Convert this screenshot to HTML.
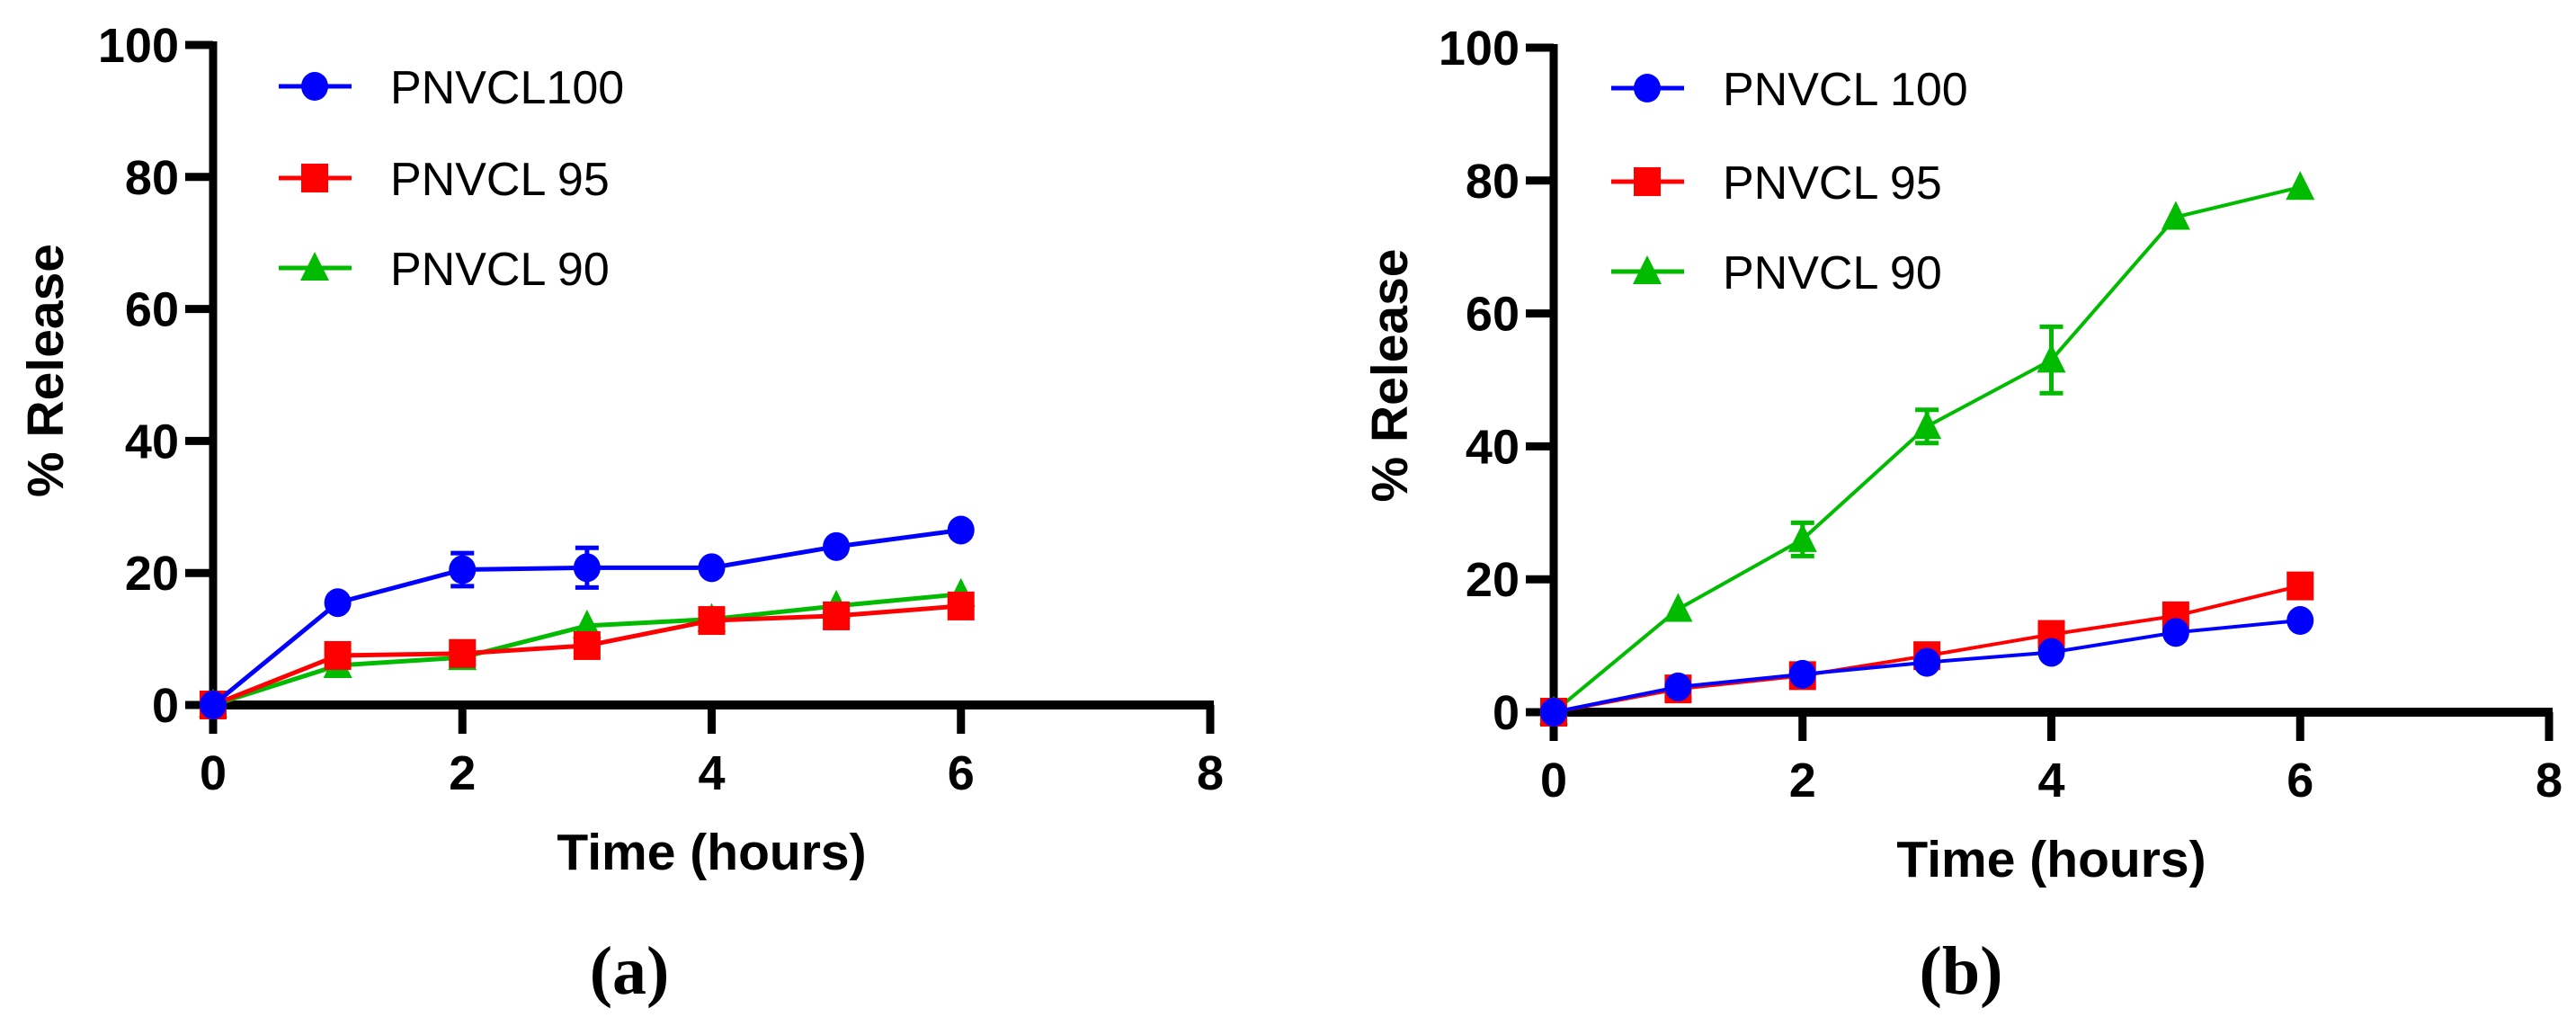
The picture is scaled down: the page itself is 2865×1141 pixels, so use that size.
<!DOCTYPE html>
<html><head><meta charset="utf-8"><style>
html,body{margin:0;padding:0;background:#fff;}
svg{display:block;}
.tk{font-family:"Liberation Sans",sans-serif;font-weight:bold;font-size:54px;fill:#000;}
.lg{font-family:"Liberation Sans",sans-serif;font-size:52px;fill:#000;}
.ttl{font-family:"Liberation Sans",sans-serif;font-weight:bold;font-size:57px;fill:#000;}
.cap{font-family:"Liberation Serif",serif;font-weight:bold;font-size:76px;fill:#000;}
</style></head><body>
<svg id="fig" width="2865" height="1141" viewBox="0 0 2865 1141" xmlns="http://www.w3.org/2000/svg"></svg>
<script>
const hours = [0,1,2,3,4,5,6];
const xTicks = [0,2,4,6,8];
const yTicks = [0,20,40,60,80,100];
// panel a
const aBlue = [0,15.5,20.5,20.8,20.8,24,26.5];
const aBlueErr = [0,0,2.5,3,0,0,0];
const aRed = [0,7.5,7.8,9,12.8,13.5,15];
const aRedErr = [0,0,0,0,0,0,0];
const aGreen = [0,6,7.2,12,13,15,16.8];
const aGreenErr = [0,0,0,0,0,0,0];
const aNames = ["PNVCL100","PNVCL 95","PNVCL 90"];
// panel b
const bBlue = [0,3.8,5.7,7.5,9,12,13.8];
const bBlueErr = [0,0,0,0,0,0,0];
const bRed = [0,3.5,5.5,8.5,11.7,14.5,19];
const bRedErr = [0,0,0,0,0,0,0];
const bGreen = [0,15.5,26,43,53,74.5,79];
const bGreenErr = [0,0,2.5,2.5,5,0,0];
const bNames = ["PNVCL 100","PNVCL 95","PNVCL 90"];

const NS="http://www.w3.org/2000/svg";
const svg=document.getElementById('fig');
function mk(tag,attrs,parent){const e=document.createElementNS(NS,tag);for(const k in attrs)e.setAttribute(k,attrs[k]);(parent||svg).appendChild(e);return e;}

function marker(g,shape,cx,cy,color){
  let m;
  if(shape==='circle') m=mk('ellipse',{cx:cx,cy:cy,rx:15,ry:16,fill:color},g);
  else if(shape==='square') m=mk('rect',{x:cx-15,y:cy-16,width:30,height:32,fill:color},g);
  else m=mk('polygon',{points:`${cx},${cy-18} ${cx-16},${cy+14} ${cx+16},${cy+14}`,fill:color},g);
  return m;
}

function panel(id,x0,x8,y0,y100,series,names,legX,legRows,lw,ylabX,caption,capX){
  const g=mk('g',{});
  
  
  const X=v=>x0+(x8-x0)*v/8;
  const Y=v=>y0+(y100-y0)*v/100;
  const ax=mk('g',{},g);
  
  
  mk('line',{x1:x0,y1:y100-4,x2:x0,y2:y0+4,stroke:'#000','stroke-width':9},ax);
  mk('line',{x1:x0-4,y1:y0,x2:x8+4,y2:y0,stroke:'#000','stroke-width':10},ax);
  yTicks.forEach(t=>{
    mk('line',{x1:x0-31,y1:Y(t),x2:x0,y2:Y(t),stroke:'#000','stroke-width':9},ax);
    const tx=mk('text',{x:x0-38,y:Y(t)+19,'text-anchor':'end',class:'tk'},ax);
    tx.textContent=t;
    
    
  });
  xTicks.forEach(t=>{
    mk('line',{x1:X(t),y1:y0,x2:X(t),y2:y0+32,stroke:'#000','stroke-width':9},ax);
    const tx=mk('text',{x:X(t),y:y0+94,'text-anchor':'middle',class:'tk'},ax);
    tx.textContent=t;
    
    
  });
  const xt=mk('text',{x:X(4),y:y0+183,'text-anchor':'middle',class:'ttl'},g);
  xt.textContent='Time (hours)';
  
  
  const yc=(y0+y100)/2-5;
  const yt=mk('text',{x:ylabX,y:yc,'text-anchor':'middle',class:'ttl',transform:`rotate(-90 ${ylabX} ${yc})`},g);
  yt.textContent='% Release';
  
  
  const cp=mk('text',{x:capX,y:1105,'text-anchor':'middle',class:'cap'},g);
  cp.textContent=caption;
  
  
  const order=[2,1,0];
  order.forEach(i=>{
    const s=series[i];
    const sg=mk('g',{},g);
    
    
    const pts=hours.map((h,j)=>X(h)+','+Y(s.vals[j])).join(' ');
    mk('polyline',{points:pts,fill:'none',stroke:s.color,'stroke-width':lw},sg);
    hours.forEach((h,j)=>{
      const e=s.err[j];
      if(e>0){
        const eb=mk('path',{d:`M${X(h)},${Y(s.vals[j]+e)}V${Y(s.vals[j]-e)}M${X(h)-13},${Y(s.vals[j]+e)}H${X(h)+13}M${X(h)-13},${Y(s.vals[j]-e)}H${X(h)+13}`,stroke:s.color,'stroke-width':5,fill:'none'},sg);
        
        
      }
      const m=marker(sg,s.shape,X(h),Y(s.vals[j]),s.color);
      
      
    });
  });
  const lg=mk('g',{},g);
  
  
  series.forEach((s,i)=>{
    const ry=legRows[i];
    const le=mk('g',{},lg);
    
    
    mk('line',{x1:legX-40,y1:ry,x2:legX+41,y2:ry,stroke:s.color,'stroke-width':5},le);
    marker(le,s.shape,legX,ry,s.color);
    const t=mk('text',{x:legX+84,y:ry+19,class:'lg'},le);
    t.textContent=names[i];
  });
}

panel('panel-a',237,1346,784,50,[
  {key:'blue',vals:aBlue,err:aBlueErr,color:'#0000ff',shape:'circle'},
  {key:'red',vals:aRed,err:aRedErr,color:'#ff0000',shape:'square'},
  {key:'green',vals:aGreen,err:aGreenErr,color:'#00bb00',shape:'triangle'}
],aNames,350,[96,198,298],5,70,'(a)',700);

panel('panel-b',1728,2835,792,53,[
  {key:'blue',vals:bBlue,err:bBlueErr,color:'#0000ff',shape:'circle'},
  {key:'red',vals:bRed,err:bRedErr,color:'#ff0000',shape:'square'},
  {key:'green',vals:bGreen,err:bGreenErr,color:'#00bb00',shape:'triangle'}
],bNames,1832,[98,202,302],4,1565,'(b)',2181);
</script>
</body></html>
